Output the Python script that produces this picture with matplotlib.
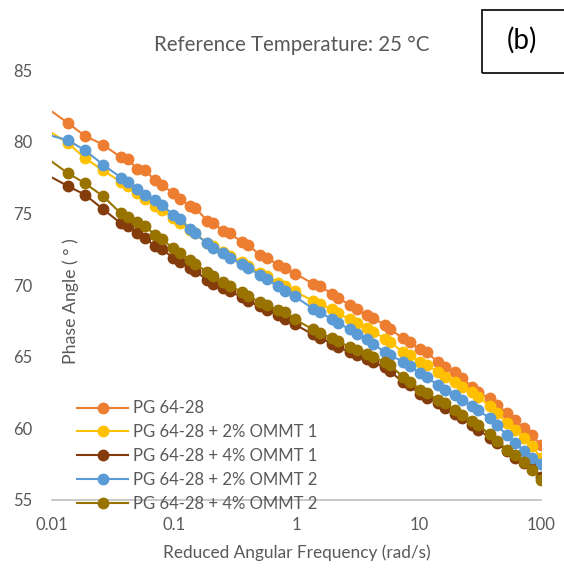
import matplotlib
matplotlib.use("Agg")
import matplotlib.pyplot as plt
import numpy as np

# reduced angular frequency (rad/s), shared by all series
freq = [0.01, 0.0135, 0.0186, 0.0261, 0.0366, 0.0419, 0.0495, 0.0577, 0.0697, 0.0794,
        0.0977, 0.111, 0.135, 0.148, 0.185, 0.207, 0.251, 0.286, 0.358, 0.401,
        0.502, 0.574, 0.706, 0.805, 0.973, 1.36, 1.56, 1.95, 2.18, 2.74,
        3.13, 3.77, 4.23, 5.30, 5.82, 7.43, 8.48, 10.2, 11.7, 14.4,
        16.4, 19.8, 22.6, 27.3, 30.5, 38.3, 43.6, 52.7, 61.2, 72.6,
        84.4, 100]

# phase angle (deg)
pg6428 = [82.1, 81.3, 80.4, 79.8, 78.9, 78.8, 78.1, 78.0, 77.3, 77.0,
          76.4, 76.0, 75.5, 75.4, 74.5, 74.3, 73.8, 73.6, 73.0, 72.8,
          72.1, 71.9, 71.4, 71.2, 70.8, 70.1, 69.9, 69.4, 69.1, 68.6,
          68.3, 67.9, 67.7, 67.2, 66.9, 66.3, 66.0, 65.5, 65.3, 64.6,
          64.3, 63.9, 63.5, 62.9, 62.5, 62.1, 61.6, 61.1, 60.6, 60.0,
          59.5, 58.85]
ommt1_2 = [80.6, 79.9, 78.85, 78.0, 77.2, 76.9, 76.4, 76.0, 75.5, 75.2,
           74.7, 74.35, 73.85, 73.6, 72.95, 72.7, 72.3, 72.0, 71.6, 71.35,
           70.85, 70.6, 70.15, 69.9, 69.55, 68.9, 68.7, 68.3, 68.05, 67.6,
           67.35, 67.0, 66.75, 66.25, 66.05, 65.3, 65.1, 64.65, 64.4, 63.95,
           63.6, 63.2, 62.9, 62.5, 62.2, 61.55, 61.05, 60.35, 59.85, 59.35,
           58.8, 57.9]
ommt1_4 = [77.5, 76.9, 76.3, 75.3, 74.3, 74.1, 73.65, 73.3, 72.7, 72.5,
           71.9, 71.6, 71.2, 71.0, 70.35, 70.1, 69.8, 69.55, 69.15, 68.9,
           68.5, 68.25, 67.9, 67.6, 67.25, 66.55, 66.3, 65.9, 65.7, 65.3,
           65.1, 64.85, 64.6, 64.25, 64.0, 63.2, 63.0, 62.4, 62.15, 61.75,
           61.45, 61.0, 60.7, 60.25, 59.9, 59.35, 59.0, 58.4, 57.9, 57.6,
           57.3, 56.6]
ommt2_2 = [80.4, 80.1, 79.4, 78.4, 77.5, 77.2, 76.7, 76.3, 75.9, 75.6,
           74.9, 74.6, 73.9, 73.6, 72.9, 72.6, 72.2, 71.9, 71.45, 71.2,
           70.7, 70.4, 69.9, 69.55, 69.2, 68.35, 68.1, 67.6, 67.35, 66.9,
           66.6, 66.2, 65.9, 65.3, 65.1, 64.65, 64.35, 63.85, 63.55, 63.0,
           62.7, 62.3, 62.0, 61.55, 61.25, 60.7, 60.2, 59.55, 59.0, 58.45,
           57.9, 57.5]
ommt2_4 = [78.6, 77.8, 77.1, 76.2, 75.0, 74.75, 74.4, 74.1, 73.5, 73.2,
           72.55, 72.25, 71.75, 71.5, 70.9, 70.6, 70.2, 69.95, 69.5, 69.25,
           68.8, 68.6, 68.25, 68.1, 67.6, 66.9, 66.65, 66.3, 66.1, 65.65,
           65.45, 65.2, 65.0, 64.6, 64.4, 63.6, 63.2, 62.7, 62.45, 62.0,
           61.75, 61.3, 60.95, 60.5, 60.2, 59.6, 59.15, 58.5, 58.15, 57.65,
           57.1, 56.4]

labels = ["PG 64-28", "PG 64-28 + 2% OMMT 1", "PG 64-28 + 4% OMMT 1",
          "PG 64-28 + 2% OMMT 2", "PG 64-28 + 4% OMMT 2"]
series = [pg6428, ommt1_2, ommt1_4, ommt2_2, ommt2_4]
colors = ["#ED7D31", "#FFC000", "#843C0C", "#5B9BD5", "#997300"]

plt.rcParams['font.family'] = ['Lato', 'DejaVu Sans']
grey = "#595959"

fig = plt.figure(figsize=(5.64, 5.68), dpi=100)
ax = fig.add_axes([52/564, 68/568, 489/564, 430/568])

for ys, c, lab in zip(series, colors, labels):
    ax.plot(freq, ys, color=c, lw=1.5, marker="o", markersize=7.5,
            markevery=slice(1, None), label=lab)

ax.set_xscale("log")
ax.set_xlim(0.01, 100)
ax.set_ylim(55, 85)
ax.set_xticks([0.01, 0.1, 1, 10, 100])
ax.set_xticklabels(["0.01", "0.1", "1", "10", "100"])
ax.set_yticks([55, 60, 65, 70, 75, 80, 85])
ax.minorticks_off()
ax.tick_params(length=0, labelsize=12, colors=grey, pad=12)
ax.tick_params(axis="y", pad=14)
for s in ["top", "right", "left"]:
    ax.spines[s].set_visible(False)
ax.spines["bottom"].set_color("#BFBFBF")
ax.spines["bottom"].set_linewidth(1.2)

fig.text(292/564, 1 - 45/568, "Reference Temperature: 25 °C", ha="center", va="center",
         fontsize=14.8, color=grey)
fig.text(297/564, 1 - 553/568, "Reduced Angular Frequency (rad/s)", ha="center", va="center",
         fontsize=12.4, color=grey)
fig.text(71/564, 1 - 301/568, "Phase Angle ( ° )", ha="center", va="center",
         rotation=90, fontsize=12.8, color=grey)

# (b) panel tag box
fig.patches.append(plt.Rectangle((482/564, 1 - 73/568), 90/564, 63/568, transform=fig.transFigure,
                                 fill=False, edgecolor="black", lw=1.2))
fig.text(522/564, 1 - 40/568, "(b)", ha="center", va="center", fontsize=20, color="black")

leg = ax.legend(loc="upper left", bbox_to_anchor=(69/564, 1 - 392/568),
                bbox_transform=fig.transFigure, frameon=False, fontsize=12,
                handlelength=3.05, handletextpad=0.3, labelspacing=0.47, borderpad=0)
for t in leg.get_texts():
    t.set_color(grey)

fig.savefig("out.png", dpi=100)
